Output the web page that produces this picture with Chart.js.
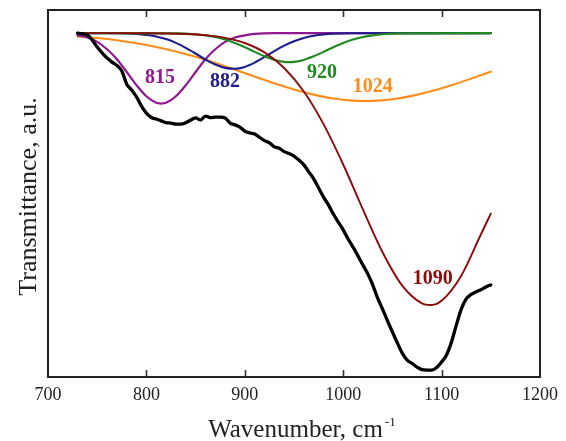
<!DOCTYPE html>
<html><head><meta charset="utf-8">
<script src="https://cdn.jsdelivr.net/npm/chart.js@4"></script>
<style>html,body{margin:0;padding:0;background:#fff}#wrap{width:566px;height:441px}</style>
</head><body><div id="wrap"><canvas id="c" width="566" height="441"></canvas></div>
<script>
// ---- data (wavenumber, cm-1 ; transmittance, a.u.) ----
const xTicks = [700, 800, 900, 1000, 1100, 1200];

const blackWn = [730,735,740,745,750,755,760,765,770,775,780,785,790,795,800,805,810,815,820,825,830,835,840,845,850,855,860,865,870,875,880,885,890,895,900,905,910,915,920,925,930,935,940,945,950,955,960,965,970,975,980,985,990,995,1000,1005,1010,1015,1020,1025,1030,1035,1040,1045,1050,1055,1060,1065,1070,1075,1080,1085,1090,1095,1100,1105,1110,1115,1120,1125,1130,1135,1140,1145,1150];
const blackT = [93.7,93.5,93.2,91.8,89.9,88.3,86.9,85.8,84.9,83.4,79.8,78.2,76.3,73.8,71.9,70.7,70.3,69.8,69.3,69.2,68.9,68.9,69.3,70.0,70.6,70.0,71.1,70.7,70.8,70.8,70.6,69.2,68.7,68.1,67.0,66.5,66.2,65.3,64.4,63.8,62.7,62.3,61.4,60.9,60.2,59.1,57.8,55.9,54.0,51.5,49.0,46.9,44.4,42.2,40.1,37.6,35.4,33.0,30.5,28.1,25.1,21.5,18.5,15.3,12.3,9.3,6.5,4.6,3.7,2.7,2.0,1.9,1.9,2.6,4.1,6.0,9.5,14.2,18.5,21.3,22.5,23.2,23.8,24.5,25.1];

const p815Wn = [730,740,750,760,770,780,790,800,810,815,820,830,840,850,860,870,880,890,900,910,930,1150];
const p815T  = [93.1,92.5,91.3,89.3,86.6,83.1,79.5,76.5,74.7,74.5,74.7,76.5,79.5,83.1,86.6,89.3,91.3,92.5,93.1,93.5,93.7,93.7];

const b882Wn = [730,770,790,800,810,820,830,840,850,860,870,880,890,900,910,920,930,940,950,960,970,980,990,1010,1150];
const b882T  = [93.7,93.65,93.46,93.2,92.8,92.07,91.05,89.7,88.14,86.5,85.15,84.23,84.0,84.5,85.65,87.16,88.8,90.3,91.5,92.4,92.97,93.33,93.52,93.68,93.7];

const g920Wn = [730,830,850,860,870,880,890,900,910,920,930,940,945,950,960,970,980,990,1000,1010,1020,1030,1040,1060,1150];
const g920T  = [93.7,93.63,93.38,93.09,92.63,91.95,91.0,89.85,88.6,87.4,86.4,85.87,85.8,85.87,86.4,87.4,88.6,89.85,91.0,91.95,92.63,93.09,93.38,93.63,93.7];

const o1024Wn = [730,750,770,790,810,830,850,870,890,910,930,950,970,990,1010,1023,1030,1050,1070,1090,1110,1130,1150];
const o1024T  = [92.8,92.35,91.74,90.94,89.93,88.69,87.23,85.56,83.75,81.88,80.04,78.35,76.94,75.88,75.3,75.2,75.23,75.67,76.6,77.9,79.5,81.3,83.2];

const r1090Wn = [730,800,840,860,880,900,920,940,960,980,1000,1020,1040,1060,1080,1088,1100,1120,1140,1150];
const r1090T  = [93.7,93.68,93.48,93.14,92.42,91.01,88.45,84.2,77.8,68.9,57.9,45.7,34.0,24.9,20.05,19.6,20.8,27.6,38.9,44.5];

const peakNames = ['815', '882', '920', '1024', '1090'];

// ---- styling / layout ----
const COLORS = { black:'#000000', purple:'#8e1890', navy:'#1c1c8c', green:'#1f8a1f', orange:'#ff8c1a', red:'#8c0a0a' };
const toPts = (xs, ys) => xs.map((x, i) => ({ x: x, y: ys[i] }));

const labelAnchors = [
  { text: peakNames[0], x: 813.8, y: 81.5, color: COLORS.purple },
  { text: peakNames[1], x: 880, y: 80.4, color: COLORS.navy },
  { text: peakNames[2], x: 978.5, y: 82.8, color: COLORS.green },
  { text: peakNames[3], x: 1030, y: 79.0, color: COLORS.orange },
  { text: peakNames[4], x: 1091, y: 26.7, color: COLORS.red }
];

const decor = {
  id: 'decor',
  afterDraw(chart) {
    const ctx = chart.ctx, a = chart.chartArea, xs = chart.scales.x, ys = chart.scales.y;
    ctx.save();
    // peak labels
    ctx.font = 'bold 20px "Liberation Serif"';
    ctx.textAlign = 'center'; ctx.textBaseline = 'middle';
    labelAnchors.forEach(l => {
      ctx.fillStyle = l.color;
      ctx.fillText(l.text, xs.getPixelForValue(l.x), ys.getPixelForValue(l.y));
    });
    // frame
    ctx.strokeStyle = '#222'; ctx.lineWidth = 2;
    ctx.strokeRect(a.left, a.top, a.right - a.left, a.bottom - a.top);
    // inner tick marks
    ctx.lineWidth = 1.6; ctx.strokeStyle = '#333';
    xTicks.slice(1, -1).forEach(v => {
      const px = Math.round(xs.getPixelForValue(v)) + 0.5;
      ctx.beginPath();
      ctx.moveTo(px, a.bottom); ctx.lineTo(px, a.bottom - 7);
      ctx.moveTo(px, a.top); ctx.lineTo(px, a.top + 7);
      ctx.stroke();
    });
    // axis titles
    ctx.fillStyle = '#222';
    ctx.font = '25px "Liberation Serif"';
    ctx.textAlign = 'left'; ctx.textBaseline = 'alphabetic';
    const main = 'Wavenumber, cm';
    const w = ctx.measureText(main).width;
    const cx = (a.left + a.right) / 2 + 1.5;
    ctx.fillText(main, cx - w / 2, 437);
    ctx.font = '13px "Liberation Serif"';
    ctx.fillText('-1', cx + w / 2 + 2, 426);
    ctx.font = '26px "Liberation Serif"';
    ctx.translate(36, (a.top + a.bottom) / 2 + 3);
    ctx.rotate(-Math.PI / 2);
    ctx.textAlign = 'center';
    ctx.fillText('Transmittance, a.u.', 0, 0);
    ctx.restore();
  }
};

const line = (pts, color, width, order) => ({
  data: pts, borderColor: color, borderWidth: width, order: order,
  pointRadius: 0, fill: false, cubicInterpolationMode: 'monotone'
});

new Chart(document.getElementById('c'), {
  type: 'line',
  data: {
    datasets: [
      line(toPts(blackWn, blackT), COLORS.black, 3.3, 0),
      line(toPts(r1090Wn, r1090T), COLORS.red, 1.9, 1),
      line(toPts(g920Wn, g920T), COLORS.green, 2.1, 2),
      line(toPts(b882Wn, b882T), COLORS.navy, 2.1, 3),
      line(toPts(p815Wn, p815T), COLORS.purple, 2.2, 4),
      line(toPts(o1024Wn, o1024T), COLORS.orange, 2.1, 5)
    ]
  },
  options: {
    responsive: false, animation: false, devicePixelRatio: 1,
    layout: { padding: { left: 48, right: 26, top: 10, bottom: 0 } },
    plugins: { legend: { display: false }, tooltip: { enabled: false } },
    elements: { line: { borderCapStyle: 'round', borderJoinStyle: 'round' } },
    scales: {
      x: {
        type: 'linear', min: xTicks[0], max: xTicks[xTicks.length - 1],
        afterBuildTicks: s => { s.ticks = xTicks.map(v => ({ value: v })); },
        ticks: { color: '#222', padding: 7, font: { family: 'Liberation Serif', size: 18 }, callback: v => String(v), maxRotation: 0 },
        grid: { display: false, drawTicks: false },
        border: { display: false },
        afterFit: s => { s.height = 64; }
      },
      y: { display: false, min: 0, max: 100 }
    }
  },
  plugins: [decor]
});
</script></body></html>
